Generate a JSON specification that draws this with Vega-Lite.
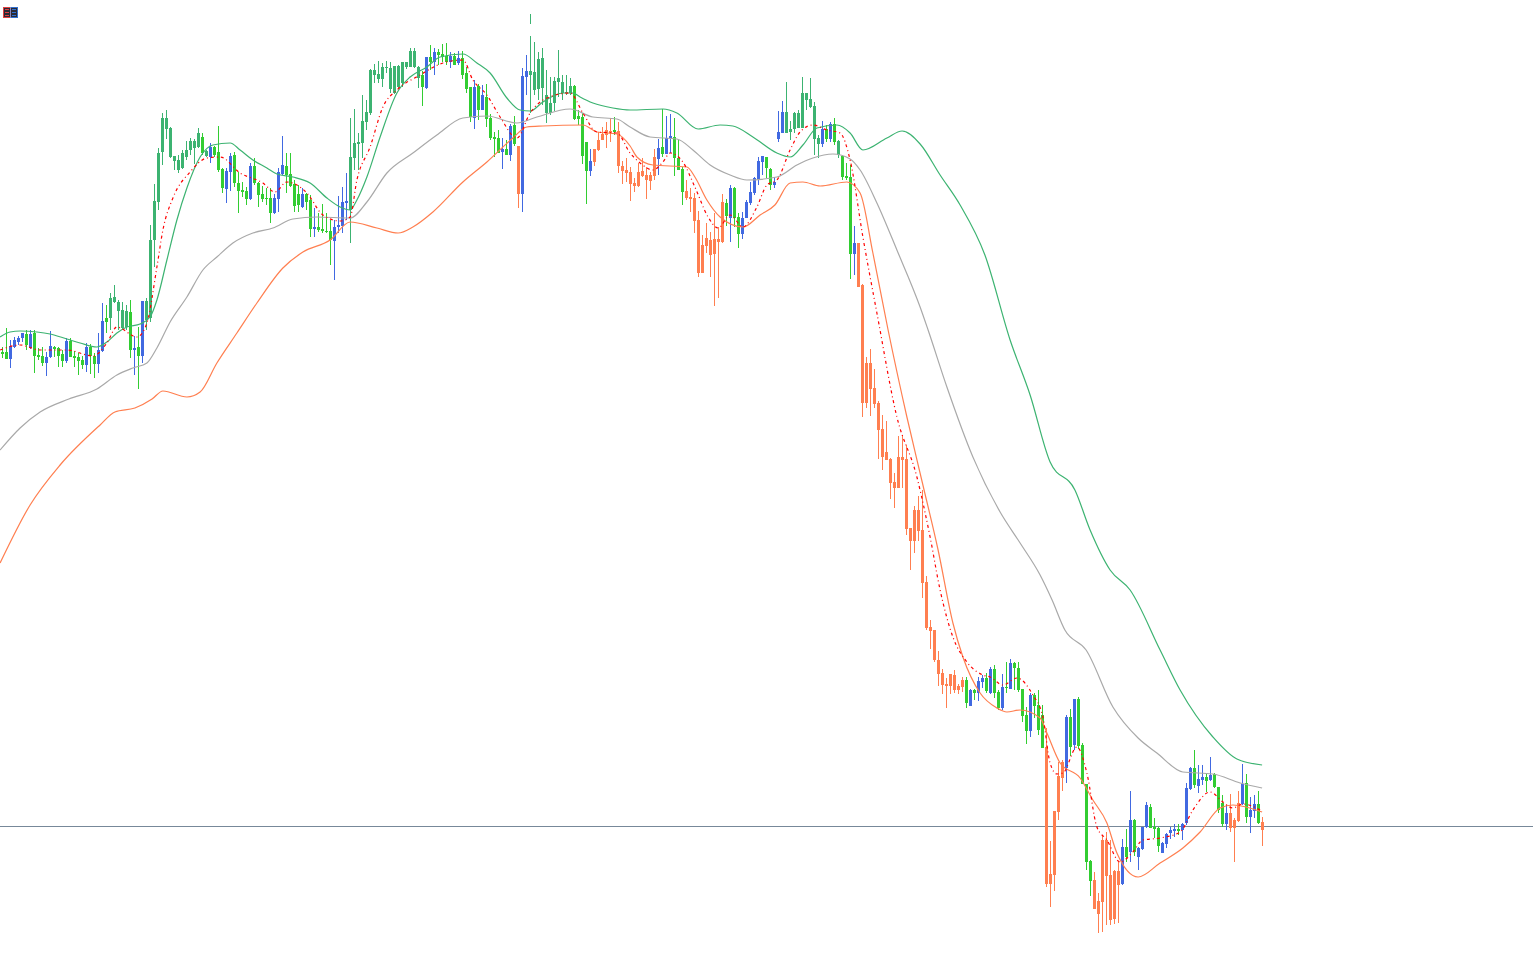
{"$schema":"https://vega.github.io/schema/vega-lite/v6.json","width":1533,"height":956,"padding":0,"autosize":{"type":"none"},"background":"white","config":{"view":{"stroke":null}},
"datasets":{
"candles":[
{"i":0,"k":"L","h":347,"t":352,"b":354,"l":358},{"i":1,"k":"L","h":328,"t":352,"b":359,"l":359},{"i":2,"k":"B","h":340,"t":346,"b":359,"l":368},{"i":3,"k":"B","h":337,"t":340,"b":347,"l":348},{"i":4,"k":"B","h":336,"t":338,"b":342,"l":345},{"i":5,"k":"B","h":333,"t":333,"b":338,"l":342},{"i":6,"k":"L","h":330,"t":334,"b":345,"l":350},{"i":7,"k":"B","h":330,"t":334,"b":348,"l":349},{"i":8,"k":"L","h":330,"t":333,"b":356,"l":373},{"i":9,"k":"L","h":348,"t":355,"b":357,"l":360},
{"i":10,"k":"L","h":347,"t":356,"b":363,"l":366},{"i":11,"k":"B","h":352,"t":357,"b":363,"l":376},{"i":12,"k":"B","h":331,"t":346,"b":357,"l":358},{"i":13,"k":"L","h":346,"t":347,"b":349,"l":357},{"i":14,"k":"L","h":347,"t":348,"b":356,"l":367},{"i":15,"k":"L","h":350,"t":354,"b":361,"l":367},{"i":16,"k":"B","h":338,"t":341,"b":361,"l":363},{"i":17,"k":"L","h":338,"t":341,"b":357,"l":357},{"i":18,"k":"L","h":351,"t":356,"b":358,"l":367},{"i":19,"k":"L","h":353,"t":357,"b":361,"l":375},
{"i":20,"k":"L","h":356,"t":360,"b":365,"l":369},{"i":21,"k":"B","h":343,"t":347,"b":365,"l":372},{"i":22,"k":"L","h":344,"t":347,"b":356,"l":374},{"i":23,"k":"L","h":353,"t":356,"b":364,"l":378},{"i":24,"k":"B","h":333,"t":350,"b":364,"l":373},{"i":25,"k":"B","h":303,"t":321,"b":351,"l":352},{"i":26,"k":"L","h":305,"t":318,"b":322,"l":333},{"i":27,"k":"S","h":293,"t":298,"b":318,"l":330},{"i":28,"k":"S","h":285,"t":297,"b":302,"l":303},{"i":29,"k":"S","h":300,"t":302,"b":311,"l":330},
{"i":30,"k":"S","h":302,"t":310,"b":328,"l":330},{"i":31,"k":"S","h":305,"t":311,"b":327,"l":330},{"i":32,"k":"L","h":300,"t":312,"b":350,"l":358},{"i":33,"k":"B","h":336,"t":348,"b":350,"l":375},{"i":34,"k":"L","h":327,"t":347,"b":356,"l":389},{"i":35,"k":"B","h":301,"t":301,"b":356,"l":363},{"i":36,"k":"S","h":298,"t":301,"b":320,"l":330},{"i":37,"k":"S","h":225,"t":240,"b":318,"l":322},{"i":38,"k":"S","h":184,"t":201,"b":240,"l":267},{"i":39,"k":"S","h":148,"t":153,"b":202,"l":210},
{"i":40,"k":"S","h":113,"t":118,"b":152,"l":165},{"i":41,"k":"S","h":110,"t":118,"b":129,"l":139},{"i":42,"k":"S","h":127,"t":128,"b":157,"l":158},{"i":43,"k":"S","h":156,"t":156,"b":161,"l":170},{"i":44,"k":"S","h":155,"t":160,"b":170,"l":173},{"i":45,"k":"S","h":150,"t":153,"b":168,"l":169},{"i":46,"k":"S","h":141,"t":150,"b":157,"l":160},{"i":47,"k":"S","h":138,"t":141,"b":150,"l":155},{"i":48,"k":"S","h":139,"t":141,"b":148,"l":164},{"i":49,"k":"S","h":128,"t":133,"b":147,"l":148},
{"i":50,"k":"L","h":133,"t":137,"b":153,"l":155},{"i":51,"k":"S","h":150,"t":151,"b":156,"l":157},{"i":52,"k":"B","h":143,"t":147,"b":157,"l":163},{"i":53,"k":"L","h":146,"t":147,"b":155,"l":157},{"i":54,"k":"L","h":126,"t":152,"b":170,"l":172},{"i":55,"k":"L","h":168,"t":169,"b":188,"l":193},{"i":56,"k":"B","h":168,"t":171,"b":189,"l":203},{"i":57,"k":"B","h":153,"t":156,"b":172,"l":191},{"i":58,"k":"L","h":152,"t":155,"b":183,"l":187},{"i":59,"k":"L","h":172,"t":183,"b":191,"l":213},
{"i":60,"k":"L","h":182,"t":190,"b":192,"l":197},{"i":61,"k":"L","h":187,"t":191,"b":199,"l":205},{"i":62,"k":"B","h":163,"t":166,"b":199,"l":200},{"i":63,"k":"L","h":158,"t":166,"b":183,"l":185},{"i":64,"k":"L","h":182,"t":183,"b":195,"l":207},{"i":65,"k":"L","h":186,"t":194,"b":199,"l":202},{"i":66,"k":"L","h":188,"t":198,"b":199,"l":205},{"i":67,"k":"L","h":188,"t":198,"b":213,"l":223},{"i":68,"k":"B","h":194,"t":198,"b":213,"l":214},{"i":69,"k":"B","h":168,"t":172,"b":199,"l":212},
{"i":70,"k":"B","h":136,"t":165,"b":174,"l":175},{"i":71,"k":"L","h":153,"t":166,"b":175,"l":193},{"i":72,"k":"L","h":153,"t":174,"b":186,"l":187},{"i":73,"k":"L","h":180,"t":184,"b":206,"l":212},{"i":74,"k":"L","h":185,"t":194,"b":205,"l":212},{"i":75,"k":"B","h":188,"t":194,"b":207,"l":208},{"i":76,"k":"L","h":193,"t":194,"b":202,"l":210},{"i":77,"k":"L","h":195,"t":200,"b":229,"l":237},{"i":78,"k":"B","h":208,"t":227,"b":229,"l":237},{"i":79,"k":"L","h":213,"t":227,"b":230,"l":232},
{"i":80,"k":"L","h":204,"t":229,"b":231,"l":233},{"i":81,"k":"L","h":213,"t":231,"b":232,"l":233},{"i":82,"k":"L","h":220,"t":231,"b":240,"l":265},{"i":83,"k":"B","h":220,"t":227,"b":241,"l":280},{"i":84,"k":"B","h":196,"t":225,"b":227,"l":233},{"i":85,"k":"B","h":187,"t":202,"b":226,"l":233},{"i":86,"k":"B","h":173,"t":201,"b":203,"l":220},{"i":87,"k":"S","h":118,"t":157,"b":210,"l":243},{"i":88,"k":"S","h":109,"t":143,"b":158,"l":170},{"i":89,"k":"S","h":133,"t":142,"b":144,"l":170},
{"i":90,"k":"S","h":95,"t":121,"b":143,"l":158},{"i":91,"k":"S","h":100,"t":112,"b":122,"l":130},{"i":92,"k":"S","h":69,"t":70,"b":113,"l":115},{"i":93,"k":"S","h":64,"t":70,"b":75,"l":83},{"i":94,"k":"S","h":61,"t":74,"b":79,"l":83},{"i":95,"k":"S","h":63,"t":67,"b":79,"l":87},{"i":96,"k":"S","h":61,"t":67,"b":68,"l":73},{"i":97,"k":"S","h":62,"t":68,"b":89,"l":93},{"i":98,"k":"S","h":66,"t":66,"b":93,"l":94},{"i":99,"k":"S","h":65,"t":66,"b":87,"l":88},
{"i":100,"k":"S","h":62,"t":62,"b":83,"l":87},{"i":101,"k":"S","h":62,"t":62,"b":67,"l":69},{"i":102,"k":"S","h":48,"t":51,"b":67,"l":67},{"i":103,"k":"S","h":48,"t":51,"b":67,"l":68},{"i":104,"k":"S","h":66,"t":67,"b":78,"l":88},{"i":105,"k":"L","h":71,"t":75,"b":87,"l":106},{"i":106,"k":"B","h":57,"t":57,"b":88,"l":89},{"i":107,"k":"L","h":45,"t":57,"b":62,"l":70},{"i":108,"k":"B","h":48,"t":52,"b":62,"l":75},{"i":109,"k":"L","h":49,"t":52,"b":55,"l":65},
{"i":110,"k":"L","h":44,"t":54,"b":57,"l":62},{"i":111,"k":"L","h":43,"t":56,"b":62,"l":65},{"i":112,"k":"B","h":52,"t":56,"b":62,"l":68},{"i":113,"k":"L","h":53,"t":56,"b":65,"l":65},{"i":114,"k":"B","h":51,"t":58,"b":63,"l":65},{"i":115,"k":"L","h":51,"t":58,"b":75,"l":79},{"i":116,"k":"L","h":67,"t":73,"b":89,"l":93},{"i":117,"k":"L","h":87,"t":87,"b":117,"l":122},{"i":118,"k":"B","h":80,"t":87,"b":118,"l":129},{"i":119,"k":"L","h":84,"t":86,"b":110,"l":120},
{"i":120,"k":"B","h":85,"t":95,"b":110,"l":110},{"i":121,"k":"L","h":84,"t":97,"b":119,"l":127},{"i":122,"k":"L","h":114,"t":118,"b":138,"l":140},{"i":123,"k":"L","h":132,"t":137,"b":139,"l":157},{"i":124,"k":"L","h":130,"t":138,"b":153,"l":153},{"i":125,"k":"B","h":138,"t":149,"b":152,"l":169},{"i":126,"k":"L","h":140,"t":149,"b":155,"l":155},{"i":127,"k":"B","h":124,"t":126,"b":155,"l":161},{"i":128,"k":"L","h":116,"t":125,"b":144,"l":146},{"i":129,"k":"C","h":146,"t":146,"b":194,"l":208},
{"i":130,"k":"B","h":68,"t":76,"b":194,"l":212},{"i":131,"k":"B","h":55,"t":71,"b":77,"l":95},{"i":132,"k":"S","h":36,"t":71,"b":75,"l":113},{"i":132,"k":"S","h":14,"t":24,"b":24,"l":24},{"i":133,"k":"S","h":42,"t":72,"b":90,"l":95},{"i":134,"k":"S","h":52,"t":59,"b":89,"l":100},{"i":135,"k":"S","h":48,"t":58,"b":88,"l":105},{"i":136,"k":"S","h":70,"t":95,"b":113,"l":123},{"i":137,"k":"S","h":77,"t":103,"b":113,"l":115},{"i":138,"k":"S","h":77,"t":81,"b":103,"l":111},{"i":139,"k":"S","h":50,"t":78,"b":82,"l":97},
{"i":140,"k":"S","h":75,"t":82,"b":93,"l":100},{"i":141,"k":"S","h":75,"t":92,"b":93,"l":95},{"i":142,"k":"S","h":78,"t":86,"b":93,"l":95},{"i":143,"k":"L","h":85,"t":86,"b":119,"l":120},{"i":144,"k":"L","h":110,"t":116,"b":119,"l":125},{"i":145,"k":"L","h":113,"t":117,"b":156,"l":164},{"i":146,"k":"L","h":142,"t":142,"b":171,"l":204},{"i":147,"k":"B","h":149,"t":161,"b":171,"l":176},{"i":148,"k":"C","h":149,"t":149,"b":162,"l":166},{"i":149,"k":"C","h":132,"t":140,"b":150,"l":151},
{"i":150,"k":"C","h":127,"t":134,"b":140,"l":140},{"i":151,"k":"C","h":122,"t":130,"b":135,"l":148},{"i":152,"k":"C","h":118,"t":131,"b":133,"l":142},{"i":153,"k":"L","h":117,"t":130,"b":132,"l":135},{"i":154,"k":"C","h":122,"t":131,"b":166,"l":173},{"i":155,"k":"C","h":161,"t":166,"b":171,"l":184},{"i":156,"k":"C","h":158,"t":170,"b":173,"l":182},{"i":157,"k":"C","h":167,"t":172,"b":184,"l":201},{"i":158,"k":"C","h":178,"t":183,"b":186,"l":192},{"i":159,"k":"C","h":163,"t":172,"b":186,"l":187},
{"i":160,"k":"C","h":158,"t":171,"b":176,"l":177},{"i":161,"k":"C","h":167,"t":175,"b":180,"l":199},{"i":162,"k":"C","h":172,"t":175,"b":181,"l":190},{"i":163,"k":"C","h":149,"t":157,"b":176,"l":180},{"i":164,"k":"B","h":139,"t":148,"b":159,"l":175},{"i":165,"k":"L","h":109,"t":147,"b":154,"l":157},{"i":166,"k":"B","h":116,"t":138,"b":154,"l":154},{"i":167,"k":"B","h":114,"t":136,"b":138,"l":153},{"i":168,"k":"L","h":118,"t":137,"b":158,"l":176},{"i":169,"k":"L","h":140,"t":158,"b":170,"l":170},
{"i":170,"k":"L","h":167,"t":169,"b":192,"l":205},{"i":171,"k":"C","h":180,"t":191,"b":198,"l":200},{"i":172,"k":"C","h":188,"t":197,"b":199,"l":212},{"i":173,"k":"C","h":193,"t":198,"b":221,"l":233},{"i":174,"k":"C","h":211,"t":220,"b":273,"l":277},{"i":175,"k":"C","h":235,"t":245,"b":273,"l":273},{"i":176,"k":"C","h":223,"t":238,"b":246,"l":253},{"i":177,"k":"C","h":232,"t":240,"b":255,"l":277},{"i":178,"k":"C","h":213,"t":239,"b":254,"l":306},{"i":179,"k":"C","h":227,"t":239,"b":242,"l":298},
{"i":180,"k":"C","h":194,"t":202,"b":242,"l":243},{"i":181,"k":"L","h":199,"t":203,"b":216,"l":226},{"i":182,"k":"B","h":185,"t":188,"b":218,"l":242},{"i":183,"k":"L","h":187,"t":188,"b":218,"l":227},{"i":184,"k":"L","h":213,"t":217,"b":234,"l":248},{"i":185,"k":"B","h":212,"t":218,"b":234,"l":239},{"i":186,"k":"B","h":200,"t":202,"b":218,"l":218},{"i":187,"k":"B","h":182,"t":192,"b":203,"l":205},{"i":188,"k":"B","h":177,"t":178,"b":193,"l":195},{"i":189,"k":"B","h":157,"t":161,"b":179,"l":185},
{"i":190,"k":"B","h":156,"t":156,"b":162,"l":175},{"i":191,"k":"L","h":157,"t":157,"b":168,"l":178},{"i":192,"k":"L","h":168,"t":169,"b":185,"l":190},{"i":193,"k":"B","h":177,"t":182,"b":185,"l":188},{"i":194,"k":"B","h":111,"t":132,"b":139,"l":142},{"i":195,"k":"B","h":101,"t":112,"b":133,"l":133},{"i":196,"k":"S","h":82,"t":112,"b":133,"l":133},{"i":197,"k":"S","h":121,"t":129,"b":132,"l":140},{"i":198,"k":"S","h":112,"t":113,"b":129,"l":133},{"i":199,"k":"S","h":110,"t":113,"b":128,"l":128},
{"i":200,"k":"S","h":77,"t":93,"b":128,"l":128},{"i":201,"k":"S","h":93,"t":93,"b":100,"l":110},{"i":202,"k":"S","h":78,"t":99,"b":107,"l":108},{"i":203,"k":"S","h":102,"t":106,"b":139,"l":155},{"i":204,"k":"S","h":135,"t":138,"b":144,"l":158},{"i":205,"k":"B","h":121,"t":129,"b":144,"l":147},{"i":206,"k":"L","h":125,"t":129,"b":139,"l":142},{"i":207,"k":"B","h":122,"t":124,"b":139,"l":142},{"i":208,"k":"L","h":118,"t":124,"b":142,"l":145},{"i":209,"k":"S","h":140,"t":141,"b":155,"l":158},
{"i":210,"k":"L","h":155,"t":156,"b":177,"l":180},{"i":211,"k":"L","h":163,"t":176,"b":178,"l":180},{"i":212,"k":"L","h":165,"t":177,"b":254,"l":279},{"i":213,"k":"B","h":226,"t":243,"b":254,"l":275},{"i":214,"k":"C","h":243,"t":243,"b":287,"l":287},{"i":215,"k":"C","h":284,"t":285,"b":403,"l":417},{"i":216,"k":"C","h":357,"t":363,"b":403,"l":408},{"i":217,"k":"C","h":349,"t":363,"b":389,"l":416},{"i":218,"k":"C","h":369,"t":388,"b":404,"l":408},{"i":219,"k":"C","h":401,"t":403,"b":430,"l":459},
{"i":220,"k":"C","h":415,"t":429,"b":457,"l":470},{"i":221,"k":"C","h":421,"t":452,"b":460,"l":460},{"i":222,"k":"C","h":458,"t":459,"b":483,"l":499},{"i":223,"k":"C","h":473,"t":482,"b":488,"l":508},{"i":224,"k":"C","h":436,"t":457,"b":488,"l":488},{"i":225,"k":"C","h":435,"t":457,"b":460,"l":488},{"i":226,"k":"C","h":445,"t":459,"b":529,"l":535},{"i":227,"k":"C","h":528,"t":528,"b":541,"l":570},{"i":228,"k":"C","h":506,"t":510,"b":541,"l":553},{"i":229,"k":"C","h":496,"t":510,"b":531,"l":541},
{"i":230,"k":"C","h":490,"t":530,"b":583,"l":598},{"i":231,"k":"C","h":576,"t":582,"b":628,"l":630},{"i":232,"k":"C","h":620,"t":627,"b":631,"l":649},{"i":233,"k":"C","h":630,"t":630,"b":660,"l":662},{"i":234,"k":"C","h":651,"t":660,"b":674,"l":686},{"i":235,"k":"C","h":669,"t":673,"b":685,"l":694},{"i":236,"k":"C","h":678,"t":684,"b":686,"l":708},{"i":237,"k":"C","h":674,"t":674,"b":686,"l":694},{"i":238,"k":"C","h":670,"t":675,"b":690,"l":693},{"i":239,"k":"C","h":684,"t":686,"b":690,"l":694},
{"i":240,"k":"C","h":677,"t":680,"b":687,"l":692},{"i":241,"k":"L","h":677,"t":680,"b":703,"l":708},{"i":242,"k":"B","h":689,"t":690,"b":706,"l":706},{"i":243,"k":"L","h":689,"t":690,"b":693,"l":700},{"i":244,"k":"B","h":677,"t":681,"b":693,"l":701},{"i":245,"k":"B","h":675,"t":678,"b":682,"l":688},{"i":246,"k":"L","h":673,"t":678,"b":691,"l":693},{"i":247,"k":"B","h":667,"t":669,"b":693,"l":694},{"i":248,"k":"L","h":665,"t":669,"b":693,"l":698},{"i":249,"k":"L","h":690,"t":692,"b":708,"l":710},
{"i":250,"k":"B","h":674,"t":687,"b":708,"l":710},{"i":251,"k":"L","h":662,"t":687,"b":688,"l":693},{"i":252,"k":"B","h":659,"t":663,"b":689,"l":689},{"i":253,"k":"L","h":662,"t":663,"b":668,"l":690},{"i":254,"k":"L","h":662,"t":668,"b":690,"l":692},{"i":255,"k":"L","h":689,"t":689,"b":716,"l":722},{"i":256,"k":"L","h":707,"t":715,"b":731,"l":744},{"i":257,"k":"B","h":693,"t":695,"b":731,"l":737},{"i":258,"k":"L","h":693,"t":695,"b":706,"l":718},{"i":259,"k":"L","h":690,"t":705,"b":730,"l":735},
{"i":260,"k":"L","h":705,"t":715,"b":748,"l":748},{"i":261,"k":"C","h":728,"t":747,"b":884,"l":887},{"i":262,"k":"C","h":841,"t":874,"b":884,"l":907},{"i":263,"k":"C","h":811,"t":811,"b":875,"l":891},{"i":264,"k":"C","h":762,"t":776,"b":812,"l":820},{"i":265,"k":"C","h":760,"t":762,"b":778,"l":791},{"i":266,"k":"B","h":715,"t":717,"b":768,"l":783},{"i":267,"k":"L","h":709,"t":717,"b":747,"l":756},{"i":268,"k":"B","h":699,"t":699,"b":745,"l":750},{"i":269,"k":"L","h":697,"t":699,"b":746,"l":749},
{"i":270,"k":"L","h":743,"t":745,"b":784,"l":784},{"i":271,"k":"L","h":784,"t":784,"b":862,"l":870},{"i":272,"k":"L","h":860,"t":861,"b":881,"l":896},{"i":273,"k":"C","h":872,"t":880,"b":909,"l":909},{"i":274,"k":"C","h":893,"t":901,"b":914,"l":933},{"i":275,"k":"C","h":836,"t":840,"b":902,"l":932},{"i":276,"k":"C","h":832,"t":840,"b":876,"l":925},{"i":277,"k":"C","h":840,"t":875,"b":920,"l":925},{"i":278,"k":"C","h":870,"t":871,"b":919,"l":924},{"i":279,"k":"C","h":862,"t":871,"b":885,"l":923},
{"i":280,"k":"B","h":839,"t":847,"b":884,"l":885},{"i":281,"k":"L","h":829,"t":847,"b":857,"l":862},{"i":282,"k":"B","h":791,"t":820,"b":852,"l":862},{"i":283,"k":"L","h":819,"t":820,"b":852,"l":856},{"i":284,"k":"B","h":847,"t":848,"b":857,"l":870},{"i":285,"k":"B","h":827,"t":827,"b":849,"l":850},{"i":286,"k":"B","h":802,"t":805,"b":827,"l":828},{"i":287,"k":"L","h":804,"t":807,"b":828,"l":828},{"i":288,"k":"L","h":818,"t":827,"b":829,"l":838},{"i":289,"k":"L","h":827,"t":828,"b":846,"l":852},
{"i":290,"k":"B","h":842,"t":843,"b":853,"l":853},{"i":291,"k":"B","h":833,"t":834,"b":844,"l":848},{"i":292,"k":"B","h":827,"t":830,"b":833,"l":839},{"i":293,"k":"B","h":824,"t":829,"b":831,"l":837},{"i":294,"k":"L","h":824,"t":829,"b":831,"l":835},{"i":295,"k":"B","h":823,"t":824,"b":830,"l":840},{"i":296,"k":"B","h":783,"t":788,"b":823,"l":825},{"i":297,"k":"B","h":767,"t":768,"b":789,"l":790},{"i":298,"k":"L","h":750,"t":768,"b":785,"l":788},{"i":299,"k":"B","h":765,"t":779,"b":786,"l":793},
{"i":300,"k":"B","h":765,"t":777,"b":780,"l":785},{"i":301,"k":"L","h":773,"t":777,"b":781,"l":792},{"i":302,"k":"B","h":757,"t":775,"b":780,"l":781},{"i":303,"k":"L","h":773,"t":774,"b":787,"l":788},{"i":304,"k":"L","h":787,"t":787,"b":810,"l":813},{"i":305,"k":"L","h":795,"t":803,"b":824,"l":827},{"i":306,"k":"B","h":805,"t":813,"b":824,"l":830},{"i":307,"k":"C","h":794,"t":813,"b":828,"l":832},{"i":308,"k":"C","h":818,"t":820,"b":828,"l":862},{"i":309,"k":"C","h":791,"t":803,"b":821,"l":822},
{"i":310,"k":"B","h":764,"t":784,"b":804,"l":805},{"i":311,"k":"L","h":774,"t":783,"b":817,"l":823},{"i":312,"k":"B","h":797,"t":810,"b":817,"l":833},{"i":313,"k":"B","h":795,"t":804,"b":811,"l":818},{"i":314,"k":"L","h":791,"t":804,"b":823,"l":824},{"i":315,"k":"C","h":817,"t":822,"b":830,"l":846}
],
"upper":[{"i":-0.6,"y":337},{"i":1.9,"y":332},{"i":4.4,"y":331},{"i":8.6,"y":332},{"i":11.9,"y":334},{"i":16.1,"y":339},{"i":19.4,"y":343},{"i":23.6,"y":347},{"i":26.1,"y":342},{"i":28.6,"y":333},{"i":31.1,"y":327},{"i":34.4,"y":324},{"i":36.9,"y":317},{"i":38.6,"y":300},{"i":41.1,"y":260},{"i":43.6,"y":220},{"i":46.1,"y":188},{"i":49.4,"y":157},{"i":52.6,"y":145},{"i":56.9,"y":143},{"i":59.4,"y":150},{"i":62.6,"y":160},{"i":66.1,"y":168},{"i":68.6,"y":174},{"i":72.6,"y":177},{"i":76.9,"y":183},{"i":81.1,"y":198},{"i":84.4,"y":207},{"i":86.9,"y":210},{"i":88.6,"y":200},{"i":91.1,"y":177},{"i":94.4,"y":137},{"i":98.6,"y":93},{"i":101.9,"y":77},{"i":106.1,"y":67},{"i":109.4,"y":57},{"i":115.1,"y":54},{"i":118.6,"y":63},{"i":121.9,"y":73},{"i":126.1,"y":98},{"i":129.4,"y":110},{"i":131.9,"y":111},{"i":135.1,"y":102},{"i":140.1,"y":93},{"i":142.6,"y":93},{"i":144.4,"y":97},{"i":147.6,"y":103},{"i":152.6,"y":108},{"i":156.9,"y":110},{"i":165.1,"y":109},{"i":168.6,"y":113},{"i":173.9,"y":129},{"i":179.4,"y":125},{"i":182.6,"y":126},{"i":187.6,"y":137},{"i":193.6,"y":153},{"i":196.9,"y":157},{"i":200.1,"y":145},{"i":203.6,"y":128},{"i":208.6,"y":125},{"i":211.9,"y":133},{"i":215.1,"y":150},{"i":221.1,"y":138},{"i":224.9,"y":131},{"i":229.4,"y":144},{"i":234.4,"y":175},{"i":239.4,"y":205},{"i":245.6,"y":255},{"i":251.9,"y":340},{"i":256.9,"y":395},{"i":261.9,"y":462},{"i":268.1,"y":490},{"i":271.9,"y":530},{"i":276.9,"y":570},{"i":281.9,"y":590},{"i":289.4,"y":650},{"i":294.4,"y":690},{"i":302.6,"y":737},{"i":308.6,"y":759},{"i":314.9,"y":765}],
"mid":[{"i":-0.6,"y":450},{"i":4.4,"y":428},{"i":9.4,"y":412},{"i":16.6,"y":399},{"i":23.6,"y":389},{"i":28.6,"y":375},{"i":32.6,"y":368},{"i":36.1,"y":363},{"i":38.6,"y":348},{"i":41.9,"y":322},{"i":46.1,"y":297},{"i":50.1,"y":270},{"i":53.6,"y":257},{"i":57.6,"y":243},{"i":62.6,"y":233},{"i":67.6,"y":228},{"i":72.6,"y":219},{"i":78.6,"y":217},{"i":86.9,"y":218},{"i":91.1,"y":202},{"i":96.1,"y":173},{"i":102.6,"y":153},{"i":108.6,"y":135},{"i":115.1,"y":118},{"i":121.1,"y":116},{"i":128.6,"y":123},{"i":133.6,"y":117},{"i":141.9,"y":109},{"i":147.6,"y":117},{"i":153.6,"y":119},{"i":156.9,"y":127},{"i":161.9,"y":137},{"i":168.6,"y":139},{"i":172.6,"y":150},{"i":176.9,"y":165},{"i":181.9,"y":175},{"i":186.1,"y":180},{"i":193.6,"y":177},{"i":198.6,"y":165},{"i":202.6,"y":158},{"i":207.6,"y":154},{"i":211.9,"y":159},{"i":214.4,"y":170},{"i":218.6,"y":203},{"i":223.6,"y":250},{"i":229.4,"y":307},{"i":231.4,"y":330},{"i":236.1,"y":387},{"i":242.6,"y":457},{"i":249.4,"y":512},{"i":254.4,"y":543},{"i":259.4,"y":575},{"i":262.4,"y":600},{"i":265.6,"y":630},{"i":270.9,"y":650},{"i":277.6,"y":707},{"i":283.9,"y":738},{"i":288.6,"y":753},{"i":295.1,"y":772},{"i":302.6,"y":774},{"i":309.4,"y":783},{"i":314.9,"y":788}],
"lower":[{"i":-0.6,"y":563},{"i":6.9,"y":505},{"i":14.4,"y":465},{"i":24.4,"y":425},{"i":28.1,"y":412},{"i":33.1,"y":408},{"i":37.4,"y":399},{"i":40.1,"y":391},{"i":46.1,"y":397},{"i":49.4,"y":392},{"i":53.6,"y":363},{"i":58.6,"y":333},{"i":63.6,"y":303},{"i":70.1,"y":268},{"i":75.1,"y":252},{"i":81.9,"y":240},{"i":86.9,"y":222},{"i":93.6,"y":228},{"i":98.9,"y":233},{"i":102.6,"y":227},{"i":107.6,"y":212},{"i":115.1,"y":182},{"i":121.1,"y":162},{"i":127.6,"y":138},{"i":131.1,"y":127},{"i":135.1,"y":126},{"i":145.1,"y":125},{"i":148.6,"y":132},{"i":153.6,"y":134},{"i":156.9,"y":146},{"i":158.6,"y":157},{"i":162.6,"y":165},{"i":171.1,"y":167},{"i":173.1,"y":177},{"i":176.1,"y":200},{"i":179.4,"y":217},{"i":185.1,"y":227},{"i":189.4,"y":215},{"i":193.1,"y":205},{"i":196.9,"y":183},{"i":200.1,"y":182},{"i":204.4,"y":186},{"i":211.1,"y":182},{"i":214.4,"y":193},{"i":217.6,"y":253},{"i":221.4,"y":330},{"i":226.1,"y":417},{"i":230.1,"y":485},{"i":233.9,"y":550},{"i":237.6,"y":623},{"i":240.1,"y":657},{"i":244.4,"y":693},{"i":248.6,"y":708},{"i":251.1,"y":712},{"i":254.4,"y":710},{"i":259.4,"y":718},{"i":261.1,"y":733},{"i":264.4,"y":763},{"i":269.4,"y":778},{"i":272.6,"y":800},{"i":276.1,"y":823},{"i":278.6,"y":853},{"i":283.9,"y":877},{"i":289.4,"y":863},{"i":295.1,"y":848},{"i":299.4,"y":832},{"i":304.4,"y":808},{"i":307.6,"y":805},{"i":314.9,"y":812}],
"ma":[{"i":-0.6,"y":350},{"i":4.4,"y":345},{"i":9.4,"y":350},{"i":16.1,"y":350},{"i":22.6,"y":356},{"i":26.1,"y":343},{"i":28.6,"y":327},{"i":33.6,"y":337},{"i":36.1,"y":323},{"i":38.6,"y":267},{"i":40.1,"y":230},{"i":42.6,"y":198},{"i":46.9,"y":172},{"i":51.1,"y":158},{"i":54.4,"y":157},{"i":59.4,"y":173},{"i":65.1,"y":183},{"i":68.1,"y":192},{"i":71.1,"y":182},{"i":76.1,"y":193},{"i":80.1,"y":215},{"i":84.4,"y":221},{"i":86.9,"y":217},{"i":88.6,"y":180},{"i":91.9,"y":147},{"i":95.1,"y":107},{"i":98.6,"y":90},{"i":104.4,"y":75},{"i":110.1,"y":63},{"i":115.1,"y":60},{"i":117.6,"y":80},{"i":121.1,"y":95},{"i":124.4,"y":117},{"i":128.6,"y":138},{"i":131.9,"y":113},{"i":136.1,"y":98},{"i":141.9,"y":93},{"i":145.1,"y":113},{"i":148.6,"y":132},{"i":153.6,"y":133},{"i":156.9,"y":153},{"i":159.4,"y":163},{"i":162.6,"y":170},{"i":165.1,"y":162},{"i":166.9,"y":153},{"i":170.1,"y":162},{"i":173.1,"y":187},{"i":176.4,"y":217},{"i":178.9,"y":228},{"i":181.9,"y":215},{"i":185.1,"y":227},{"i":188.6,"y":207},{"i":191.1,"y":185},{"i":193.6,"y":180},{"i":196.9,"y":150},{"i":199.4,"y":132},{"i":202.6,"y":125},{"i":206.1,"y":130},{"i":209.4,"y":133},{"i":211.9,"y":160},{"i":215.1,"y":237},{"i":218.6,"y":313},{"i":223.6,"y":417},{"i":228.6,"y":477},{"i":231.9,"y":537},{"i":234.4,"y":590},{"i":237.6,"y":637},{"i":241.1,"y":662},{"i":245.1,"y":675},{"i":246.9,"y":677},{"i":250.1,"y":685},{"i":253.6,"y":678},{"i":257.6,"y":695},{"i":260.1,"y":717},{"i":261.9,"y":763},{"i":263.6,"y":774},{"i":265.1,"y":773},{"i":268.6,"y":747},{"i":271.1,"y":773},{"i":273.6,"y":827},{"i":276.1,"y":840},{"i":279.4,"y":862},{"i":282.6,"y":852},{"i":285.1,"y":840},{"i":289.4,"y":838},{"i":294.4,"y":832},{"i":297.6,"y":810},{"i":301.9,"y":792},{"i":305.1,"y":802},{"i":307.6,"y":808},{"i":310.1,"y":804},{"i":314.4,"y":810}],
"icon":[{"x1":0.125,"x2":2,"y1":7,"y2":18,"k":"IR"},{"x1":2,"x2":3.875,"y1":7,"y2":18,"k":"IB"},{"x1":0.375,"x2":1.875,"y1":8,"y2":17,"k":"ID"},{"x1":2.125,"x2":3.625,"y1":8,"y2":17,"k":"ID"},{"x1":0.625,"x2":1.625,"y1":9,"y2":10,"k":"IR"},{"x1":0.625,"x2":1.625,"y1":12,"y2":13,"k":"IR"},{"x1":0.625,"x2":1.625,"y1":15,"y2":16,"k":"IR"},{"x1":2.375,"x2":3.375,"y1":9,"y2":10,"k":"IB"},{"x1":2.375,"x2":3.375,"y1":12,"y2":13,"k":"IB"},{"x1":2.375,"x2":3.375,"y1":15,"y2":16,"k":"IB"}],
"level":[{"y":826.5}]
},
"layer":[
{"data":{"name":"level"},"mark":{"type":"rule","color":"#778899","strokeWidth":1},"encoding":{"y":{"field":"y","type":"quantitative","scale":{"domain":[956,0],"nice":false,"zero":false},"axis":null}}},
{"data":{"name":"candles"},"mark":{"type":"rule","strokeWidth":1},"encoding":{"x":{"field":"i","type":"quantitative","scale":{"domain":[-0.625,382.625],"nice":false,"zero":false},"axis":null},"y":{"field":"h","type":"quantitative","axis":null},"y2":{"field":"l"},"color":{"field":"k","type":"nominal","legend":null,"scale":{"domain":["B","L","S","C","IR","IB","ID"],"range":["#4169E1","#32CD32","#3CB371","#FF7F50","#E04040","#2F6FD0","#2A2A35"]}}}},
{"data":{"name":"candles"},"mark":{"type":"rule","strokeWidth":3},"encoding":{"x":{"field":"i","type":"quantitative","axis":null},"y":{"field":"t","type":"quantitative","axis":null},"y2":{"field":"b"},"color":{"field":"k","type":"nominal","legend":null}}},
{"data":{"name":"mid"},"mark":{"type":"line","color":"#A9A9A9","strokeWidth":1.2,"interpolate":"monotone"},"encoding":{"x":{"field":"i","type":"quantitative","axis":null},"y":{"field":"y","type":"quantitative","axis":null}}},
{"data":{"name":"upper"},"mark":{"type":"line","color":"#3CB371","strokeWidth":1.2,"interpolate":"monotone"},"encoding":{"x":{"field":"i","type":"quantitative","axis":null},"y":{"field":"y","type":"quantitative","axis":null}}},
{"data":{"name":"lower"},"mark":{"type":"line","color":"#FF7F50","strokeWidth":1.2,"interpolate":"monotone"},"encoding":{"x":{"field":"i","type":"quantitative","axis":null},"y":{"field":"y","type":"quantitative","axis":null}}},
{"data":{"name":"ma"},"mark":{"type":"line","color":"#FF0000","strokeWidth":1.2,"strokeDash":[3,3,1,3],"interpolate":"monotone"},"encoding":{"x":{"field":"i","type":"quantitative","axis":null},"y":{"field":"y","type":"quantitative","axis":null}}},
{"data":{"name":"icon"},"mark":{"type":"rect"},"encoding":{"x":{"field":"x1","type":"quantitative","axis":null},"x2":{"field":"x2"},"y":{"field":"y1","type":"quantitative","axis":null},"y2":{"field":"y2"},"color":{"field":"k","type":"nominal","legend":null}}}
]}
